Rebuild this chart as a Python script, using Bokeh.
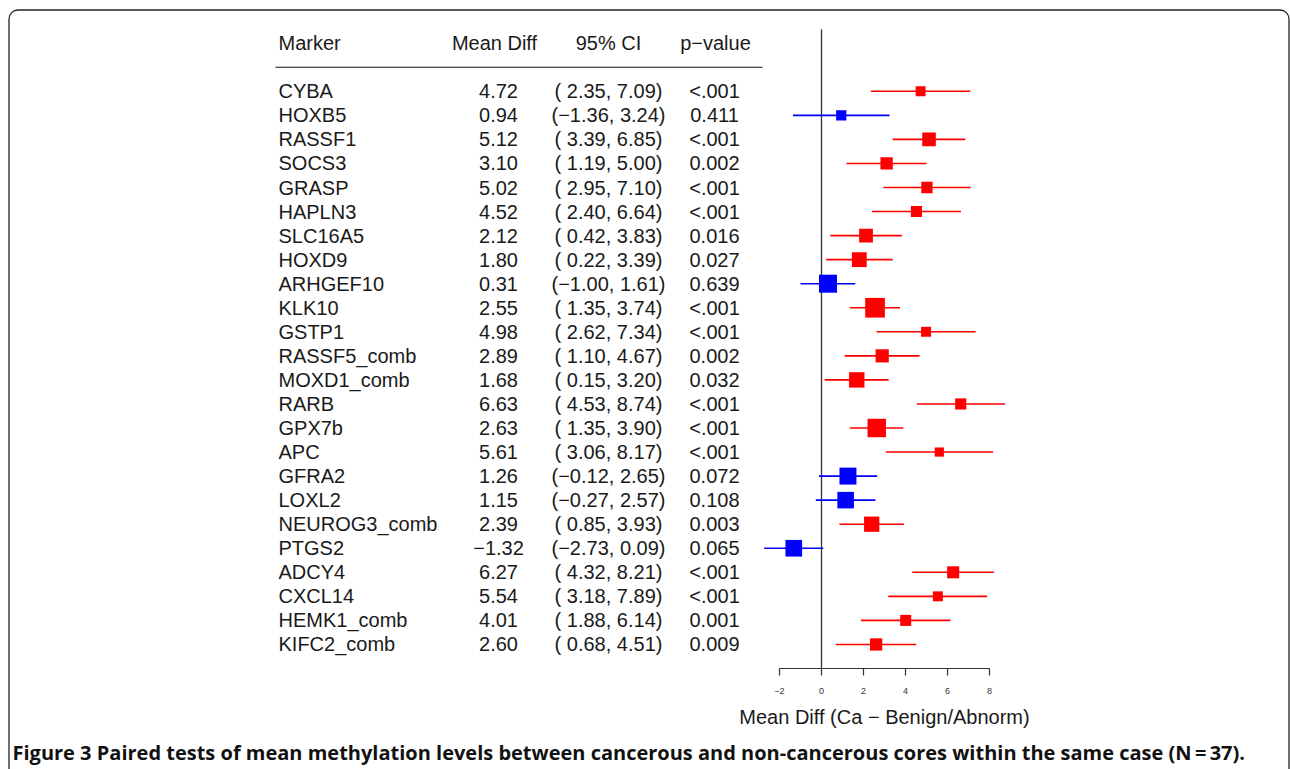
from bokeh.plotting import figure
from bokeh.models import Range1d, LinearAxis, FixedTicker, ColumnDataSource
from bokeh.core.properties import value
from bokeh.embed import file_html
from bokeh.resources import INLINE

# ---------------- data ----------------
markers = ["CYBA", "HOXB5", "RASSF1", "SOCS3", "GRASP", "HAPLN3", "SLC16A5", "HOXD9",
           "ARHGEF10", "KLK10", "GSTP1", "RASSF5_comb", "MOXD1_comb", "RARB", "GPX7b",
           "APC", "GFRA2", "LOXL2", "NEUROG3_comb", "PTGS2", "ADCY4", "CXCL14",
           "HEMK1_comb", "KIFC2_comb"]
mean_diff = [4.72, 0.94, 5.12, 3.10, 5.02, 4.52, 2.12, 1.80, 0.31, 2.55, 4.98, 2.89,
             1.68, 6.63, 2.63, 5.61, 1.26, 1.15, 2.39, -1.32, 6.27, 5.54, 4.01, 2.60]
ci_low = [2.35, -1.36, 3.39, 1.19, 2.95, 2.40, 0.42, 0.22, -1.00, 1.35, 2.62, 1.10,
          0.15, 4.53, 1.35, 3.06, -0.12, -0.27, 0.85, -2.73, 4.32, 3.18, 1.88, 0.68]
ci_high = [7.09, 3.24, 6.85, 5.00, 7.10, 6.64, 3.83, 3.39, 1.61, 3.74, 7.34, 4.67,
           3.20, 8.74, 3.90, 8.17, 2.65, 2.57, 3.93, 0.09, 8.21, 7.89, 6.14, 4.51]
p_values = ["<.001", "0.411", "<.001", "0.002", "<.001", "<.001", "0.016", "0.027",
            "0.639", "<.001", "<.001", "0.002", "0.032", "<.001", "<.001", "<.001",
            "0.072", "0.108", "0.003", "0.065", "<.001", "<.001", "0.001", "0.009"]
headers = ["Marker", "Mean Diff", "95% CI", "p\u2212value"]
tick_values = [-2, 0, 2, 4, 6, 8]
tick_labels = ["\u22122", "0", "2", "4", "6", "8"]
x_label = "Mean Diff (Ca \u2212 Benign/Abnorm)"
caption = ("Figure 3 Paired tests of mean methylation levels between cancerous and "
           "non-cancerous cores within the same case (N\u2009=\u200937).")

# ---------------- derived ----------------
def fmt(v):
    s = f"{abs(v):.2f}"
    return ("\u2212" + s) if v < 0 else s

n = len(markers)
rows = list(range(n))
colors = ["#0000ff" if (lo <= 0 <= hi) else "#ff0000" for lo, hi in zip(ci_low, ci_high)]
box_size = [47.0 / (hi - lo) for lo, hi in zip(ci_low, ci_high)]
ci_text = [f"({'' if lo < 0 else ' '}{fmt(lo)}, {fmt(hi)})" for lo, hi in zip(ci_low, ci_high)]
md_text = [fmt(v) for v in mean_diff]

src = ColumnDataSource(dict(row=rows, marker=markers, md=mean_diff, lo=ci_low, hi=ci_high,
                            color=colors, size=box_size, ci=ci_text, mdt=md_text, p=p_values))

# ---------------- figure ----------------
W, H = 1290, 769
X0, XS = 821.0, 21.0     # canvas px of value 0, px per unit
Y0, YS = 90.8, 24.05     # canvas px of first row, px per row

p = figure(width=W, height=H, output_backend="svg", toolbar_location=None,
           x_range=Range1d((0 - X0) / XS, (W - X0) / XS),
           y_range=Range1d((H - Y0) / YS, (0 - Y0) / YS),
           x_axis_type=None, y_axis_type=None, min_border=0,
           outline_line_color=None, background_fill_color="white")
p.extra_x_ranges = {"px": Range1d(0, W)}
p.extra_y_ranges = {"py": Range1d(H, 0)}

FONTNAME = "Liberation Sans"
FONT = value(FONTNAME)
TXT = "#1a1a1a"

# outer rounded border
p.quad(left=[8.5], right=[1288.5], top=[9.5], bottom=[900], x_range_name="px",
       y_range_name="py", fill_color=None, line_color="#222222", line_width=1.3,
       border_radius=9)

# header row and rule
hdr_x = [278, 494, 608, 715]
hdr_align = ["left", "center", "center", "center"]
for hx, ht, ha in zip(hdr_x, headers, hdr_align):
    p.text(x=[hx], y=[-2], text=[ht], x_range_name="px", text_font=FONT,
           text_font_size="20px", text_align=ha, text_baseline="middle", text_color=TXT)
p.segment(x0=[275], x1=[762], y0=[-1], y1=[-1], x_range_name="px",
          line_color="#111111", line_width=1.2)

# table columns
p.text(x=278, y="row", text="marker", source=src, x_range_name="px", text_font=FONT,
       text_font_size="20px", text_align="left", text_baseline="middle", text_color=TXT)
p.text(x=498, y="row", text="mdt", source=src, x_range_name="px", text_font=FONT,
       text_font_size="20px", text_align="center", text_baseline="middle", text_color=TXT)
p.text(x=608, y="row", text="ci", source=src, x_range_name="px", text_font=FONT,
       text_font_size="20px", text_align="center", text_baseline="middle", text_color=TXT)
p.text(x=714, y="row", text="p", source=src, x_range_name="px", text_font=FONT,
       text_font_size="20px", text_align="center", text_baseline="middle", text_color=TXT)

# zero line
p.segment(x0=[0], x1=[0], y0=[-2.58], y1=[n], line_color="#333333", line_width=1.3)

# CI lines and boxes
p.segment(x0="lo", x1="hi", y0="row", y1="row", source=src, line_color="color",
          line_width=1.6)
p.scatter(x="md", y="row", size="size", marker="square", source=src,
          fill_color="color", line_color="color", line_width=0)

# x axis
ax = LinearAxis(fixed_location=n, bounds=(-2, 8), ticker=FixedTicker(ticks=tick_values),
                major_label_overrides={k: v for k, v in zip(tick_values, tick_labels)},
                axis_line_color="#333333", axis_line_width=1.2,
                major_tick_line_color="#333333", major_tick_line_width=1.2,
                major_tick_out=7, major_tick_in=0, minor_tick_out=0, minor_tick_in=0,
                major_label_text_font=FONTNAME, major_label_text_font_size="9px",
                major_label_text_color="#333333", major_label_standoff=12,
                axis_label=x_label, axis_label_text_font=FONTNAME,
                axis_label_text_font_size="20px", axis_label_text_font_style="normal",
                axis_label_text_color=TXT, axis_label_standoff=9)
p.add_layout(ax, "below")

# caption
p.text(x=[12], y=[752], text=[caption], x_range_name="px", y_range_name="py",
       text_font=value("Open Sans"), text_font_style="bold", text_font_size="20px",
       text_align="left", text_baseline="middle", text_color="#111111")

open("out.html", "w").write(file_html(p, INLINE))
